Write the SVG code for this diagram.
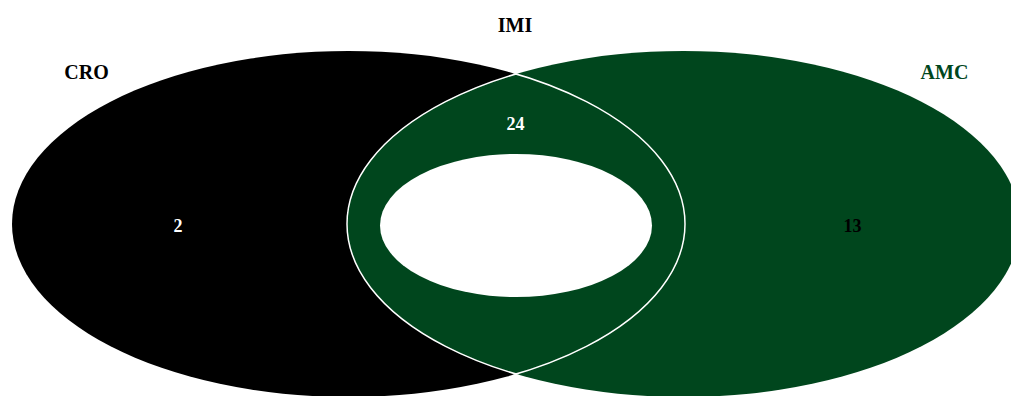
<svg xmlns="http://www.w3.org/2000/svg" width="1011" height="396" viewBox="0 0 1011 396">
<style>
.lbl{font-family:"Liberation Serif","Times New Roman",serif;font-weight:bold;font-size:20px;text-anchor:middle}
.num{font-family:"Liberation Serif","Times New Roman",serif;font-weight:bold;font-size:18px;text-anchor:middle}
</style>
<defs>
<clipPath id="clipL"><ellipse cx="348.5" cy="224" rx="337.5" ry="174"/></clipPath>
<clipPath id="clipR"><ellipse cx="683.5" cy="224" rx="337.5" ry="174"/></clipPath>
</defs>
<rect width="1011" height="396" fill="#ffffff"/>
<g id="CRO">
<ellipse cx="348.5" cy="224" rx="336.5" ry="173" fill="#000000"/>
<text class="lbl" x="86.5" y="79" fill="#000000">CRO</text>
<text class="num" x="178" y="232" fill="#ffffff">2</text>
</g>
<g id="AMC">
<ellipse cx="683.5" cy="224" rx="336.5" ry="173" fill="#00461d"/>
<text class="lbl" x="944.5" y="78.5" fill="#00461d">AMC</text>
<text class="num" x="852.5" y="232" fill="#000000">13</text>
</g>
<g id="IMI">
<g clip-path="url(#clipL)">
<ellipse cx="683.5" cy="224" rx="336.5" ry="173" fill="#00461d" stroke="#ffffff" stroke-width="1.5"/>
</g>
<ellipse cx="348.5" cy="224" rx="336.5" ry="173" fill="none" stroke="#ffffff" stroke-width="1.5" clip-path="url(#clipR)"/>
<ellipse cx="516" cy="225.5" rx="136" ry="71.5" fill="#ffffff"/>
<text class="lbl" x="515" y="32" fill="#000000">IMI</text>
<text class="num" x="515.5" y="129.5" fill="#ffffff">24</text>
</g>
</svg>
